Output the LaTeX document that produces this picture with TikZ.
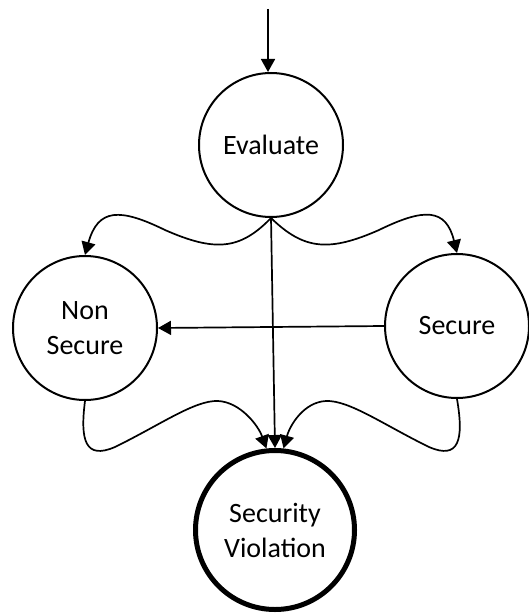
\documentclass[tikz,border=0pt]{standalone}
\usepackage{fontspec}
\setmainfont{Carlito}
\usetikzlibrary{arrows.meta}
\begin{document}
\begin{tikzpicture}[x=1pt,y=-1pt,
  state/.style={circle,draw,line width=2pt,minimum size=144pt,inner sep=0pt,
    align=center,font=\fontsize{28}{35}\selectfont},
  final/.style={state,line width=5pt,minimum size=159pt},
  link/.style={line width=1.7pt,-{Triangle[length=13pt,width=14pt]}}]
  \useasboundingbox (0,0) rectangle (529,615);

  \node[state] (ev)  at (271,145) {Evaluate};
  \node[state] (ns)  at (85,328)  {Non\\Secure};
  \node[state] (sec) at (457,326) {Secure};
  \node[final] (sv)  at (275,530) {Security\\Violation};

  % entry arrow
  \coordinate (in) at (268,9);
  \draw[link] (in) -- (in |- ev.north);

  % Evaluate branches
  \draw[link] (ev.south) .. controls (240,250) and (215,252) .. (165,230)
                         .. controls (120,208) and (98,208) .. (ns.north);
  \draw[link] (ev.south) .. controls (304,250) and (329,252) .. (379,230)
                         .. controls (424,208) and (446,208) .. (sec.north);
  \draw[link] (ev.south) -- (sv.north);

  % Secure back to Non Secure
  \draw[link] (sec.west) -- (ns.east);

  % both states into Security Violation
  \draw[link] (ns.south) .. controls (80,440) and (85,460) .. (115,447)
                         .. controls (160,425) and (195,400) .. (218,401)
                         .. controls (240,402) and (258,425) .. (sv.96);
  \draw[link] (sec.south) .. controls (464,440) and (459,460) .. (429,447)
                          .. controls (384,425) and (349,400) .. (326,401)
                          .. controls (304,402) and (290,425) .. (sv.84);
\end{tikzpicture}
\end{document}
